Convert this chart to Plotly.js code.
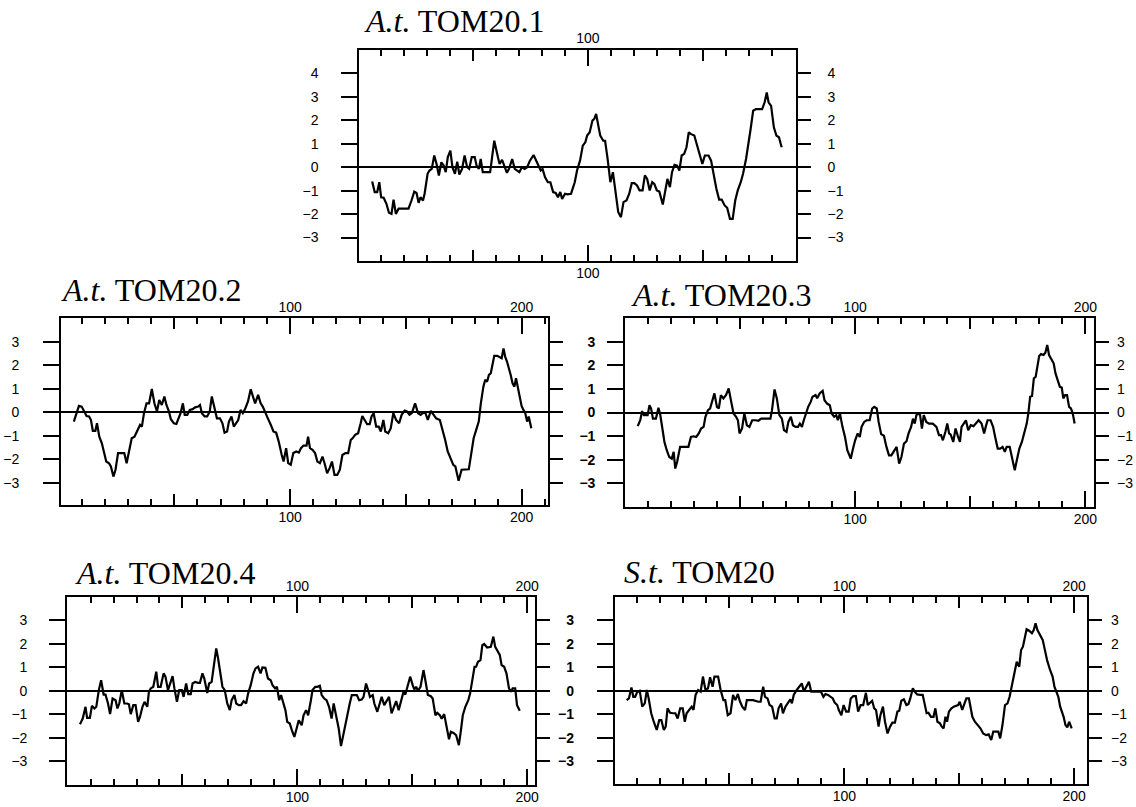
<!DOCTYPE html>
<html><head><meta charset="utf-8">
<script src="https://cdn.plot.ly/plotly-3.0.1.min.js"></script>
<style>html,body{margin:0;padding:0;background:#fff}#chart{width:1136px;height:807px}</style>
</head><body><div id="chart"></div>
<script>
// ---- data: residue position / hydropathy value ----
const tom201_pos = [6.2,7.3,8.4,9.3,10.1,11.2,12.4,13.5,14.6,15.5,
16.5,17.7,18.9,22,23.3,24.5,25.5,26.4,27.2,28.3,
29,30.3,31.1,32.1,33.2,34.2,35.2,36.3,37.3,38.2,
39.1,40.2,41.1,42.2,43.2,44.1,45.3,46.4,47.5,48.4,
49.5,50.8,51.6,52.6,53.4,54.3,57.5,59.3,60.9,61.6,
62.7,63.7,64.8,65.7,67.1,68.2,69.3,70.2,71.3,72.5,
73.6,74.8,76.4,78,79.5,80.3,81.4,82.6,83.7,84.9,
86,87,88,88.8,90.1,91.1,92.7,94.3,95.3,96.6,
97.8,98.9,99.7,100.8,102,102.8,103.6,104.7,105.4,106.7,
107.5,108.5,109.8,110.9,112.1,113.2,114.4,115.5,116.8,118,
119.1,120.2,121.4,122.5,123.8,124.8,125.8,126.9,128,128.9,
130,131.1,132.6,133.5,134.6,135.7,136.6,137.7,138.8,139.8,
140.8,141.9,142.9,143.9,144.7,146.3,147.4,148.6,149.8,150.9,
152.5,153.6,154.8,155.9,157.1,158.2,159.5,160.6,161.8,163,
164.1,165.2,166.5,167.5,168.8,169.9,170.8,171.9,173.1,175.8,
176.9,177.8,178.6,179.7,180.9,182,183.1,184.3];
const tom201_hyd = [-0.61,-1.06,-1.06,-0.64,-1.28,-1.3,-1.56,-1.94,-1.99,-1.38,
-1.99,-1.77,-1.77,-1.77,-1.42,-1.04,-1.1,-1.52,-1.28,-1.42,
-1.13,-0.28,-0.14,-0.07,0.5,0.14,-0.35,0.21,0.07,-0.21,
0.43,0.71,0,-0.28,0.24,-0.31,-0.07,0.5,0,-0.07,
0.43,0.43,0.07,-0.07,0.35,-0.21,-0.21,1.13,0.43,0.14,
0.31,0.07,-0.24,-0.07,0.35,-0.07,-0.17,-0.21,0,-0.07,
0,0.28,0.52,0.21,-0.14,-0.07,-0.43,-0.64,-0.64,-1.06,
-1.1,-1.28,-1.06,-1.35,-1.13,-1.16,-1.13,-0.64,-0.14,0.28,
0.92,1.06,1.35,1.49,1.99,2.06,2.27,1.7,1.35,1.13,
1.13,0.43,-0.64,-0.21,-1.13,-1.91,-2.13,-1.49,-1.42,-1.13,
-0.68,-0.68,-0.78,-0.99,-0.99,-0.35,-0.5,-0.99,-0.64,-0.71,
-0.99,-1.04,-1.59,-1.13,-0.5,-0.85,-0.21,0.1,0.07,-0.14,
0.5,0.57,0.85,1.49,1.42,1.35,0.99,0.5,0.14,0.5,
0.5,0.28,-0.43,-0.92,-1.38,-1.38,-1.63,-1.73,-2.2,-2.2,
-1.42,-0.99,-0.64,-0.28,0.35,0.99,1.63,2.41,2.48,2.48,
2.77,3.19,2.77,2.62,1.7,1.35,1.28,0.85];

const tom202_pos = [6.6,7.7,8.8,10,11.1,12.1,13.2,14,14.8,15.9,
16.6,17.6,18.7,19.8,20.6,21.8,22.6,23.7,24.6,25.7,
28.4,29.4,30.5,31.6,32.8,34.1,35.2,36,36.9,38,
39.1,40.3,41.4,42.5,43.5,44.6,45.7,46.6,47.7,48.5,
49.8,50.9,51.6,52.7,53.7,54.5,55.6,56.7,57.9,59,
60.3,61.1,61.9,63.1,64.2,65.3,66.2,67.3,68.4,69.7,
70.8,71.7,72.8,73.6,74.7,75.7,76.8,77.6,78.6,79.6,
80.7,81.8,83,83.8,84.9,86.2,87.3,88.2,89.3,90.4,
91.7,92.8,94,95.1,96.4,97.2,98.3,99.2,100.3,101.4,
102.7,103.8,104.7,105.8,107.1,107.8,108.6,109.7,110.8,111.8,
112.9,114,114.9,116,117.1,118.1,119.2,120.4,121.5,122.6,
123.9,125.1,126.2,127,128.1,129.4,130.5,131.2,132.2,133.3,
134.4,135.2,136.1,137.2,138.3,139.2,140.3,141.1,142.4,143.5,
144.6,145.8,147.1,148.2,149.5,150.5,151.6,152.6,154,155.3,
156.4,157.3,158.4,159.5,160.8,162,163.1,164.7,165.9,167,
168.1,169.4,170.5,171.4,172.8,174.1,175.7,177.2,178.3,179.3,
180.4,181.5,182.4,183.5,184.3,185.1,185.9,186.7,187.4,188.2,
189.5,190.6,191.4,192.2,192.9,193.7,194.5,195.3,196.1,196.9,
197.6,198.4,199.2,200,200.8,201.6,202.4,203.1,204.2];
const tom202_hyd = [-0.4,-0.04,0.27,0.24,0.03,-0.16,-0.18,-0.33,-0.79,-0.79,
-0.47,-1.04,-1.32,-1.82,-2.1,-2.17,-2.31,-2.74,-2.45,-1.74,
-1.74,-2.17,-1.6,-1.11,-1.04,-0.75,-0.54,-0.61,-0.04,0.38,
0.38,0.99,0.38,0.03,0.52,0.31,0.67,0.31,0.03,-0.3,
-0.47,-0.5,-0.33,-0.04,0.38,-0.11,-0.11,0.1,0.13,0.21,
0.24,0.31,-0.04,-0.18,-0.18,0.03,0.67,0.17,-0.26,-0.26,
-0.47,-0.87,-0.82,-0.4,-0.18,-0.61,-0.47,-0.33,0.1,-0.04,
0.17,0.45,0.98,0.74,0.38,0.74,0.38,0.24,-0.04,-0.26,
-0.54,-0.82,-0.87,-1.25,-1.82,-2.1,-1.53,-2.17,-2.24,-1.74,
-1.67,-1.72,-1.53,-1.42,-1.42,-1.04,-1.53,-1.6,-1.74,-2.1,
-2.17,-1.89,-2.17,-2.6,-2.38,-2.1,-2.67,-2.67,-2.45,-1.82,
-1.74,-1.74,-1.18,-1.11,-0.96,-0.89,-0.47,-0.16,-0.33,-0.51,
-0.51,-0.18,-0.04,-0.61,-0.61,-0.82,-0.33,-0.82,-0.89,-0.68,
-0.04,-0.33,-0.47,-0.11,0.07,0.03,-0.11,-0.04,0.38,-0.04,
-0.11,-0.04,-0.01,-0.33,0.06,-0.11,-0.26,-0.33,-0.75,-1.18,
-1.67,-1.96,-2.24,-2.31,-2.92,-2.45,-2.43,-2.43,-1.74,-1.11,
-0.75,-0.4,0.38,1.09,1.38,1.3,1.59,1.66,2.01,2.4,
2.4,2.34,2.3,2.72,2.37,2.16,1.91,1.59,1.23,1.09,
1.45,1.02,0.6,0.27,0.1,-0.04,-0.4,-0.18,-0.68];

const tom203_pos = [5.6,6.7,7.5,8.3,9.1,9.9,10.7,11.4,12.2,13.5,
14.6,15.4,16.3,17.2,18.2,19.3,20.4,21.2,21.9,22.7,
24,25.1,27.6,28.7,29.8,31,32.1,33.1,34.2,35,
36.1,37,38.1,38.9,40,40.8,41.7,42.8,43.9,45.1,
46.2,47.2,48.3,49.1,49.8,50.9,51.9,53,54.1,55.3,
56.9,58,59.2,61.6,63.2,63.9,65,66,67.1,68.2,
69.1,70.2,71,72.1,73,74.1,75.2,76,76.9,77.7,
78.8,79.6,80.7,81.5,82.8,83.5,84.6,85.9,86.7,87.8,
89,89.8,90.9,91.8,92.5,93.4,94.5,95.6,96.6,97.3,
98.1,98.9,100,101.1,102,102.8,103.9,105,106.3,107.4,
108.3,109.4,110.2,111.3,112.5,113.6,114.7,115.7,116.8,118,
119.1,120.1,121.2,122.3,123.2,124.3,125.1,125.9,126.6,127.4,
128.2,129,129.8,130.9,132.1,133.7,135.3,136.4,137.3,138.1,
139.2,140,140.8,141.5,142.6,143.6,144.7,145.5,146.2,147,
148.1,149.1,150.2,151.4,152.5,153.6,154.9,156,156.7,157.5,
158.8,159.9,160.8,161.9,163,164,165,165.8,167.1,168.2,
169.3,170.2,171.3,172.4,173.4,174.5,175.2,176,176.8,177.6,
178.4,179.2,179.9,180.7,181.8,182.6,183.4,184.2,185.1,186.2,
187,187.8,188.9,189.7,190.4,191.2,192,192.9,193.7,194.5,
195.3];
const tom203_hyd = [-0.58,-0.33,0.06,-0.11,-0.11,-0.11,0.31,0.17,-0.26,-0.26,
0.2,-0.11,-0.68,-1.25,-1.6,-1.89,-1.96,-1.67,-2.38,-2.1,
-1.46,-1.46,-1.46,-1.04,-1.01,-1.04,-0.89,-0.68,-0.61,-0.18,
0.1,0.17,0.6,0.81,0.24,0.17,0.74,0.6,0.74,1.02,
0.45,-0.04,-0.18,-0.33,-0.89,-0.68,-0.04,-0.54,-0.61,-0.33,
-0.33,-0.35,-0.26,-0.26,-0.26,0.1,0.98,0.6,-0.11,-0.26,
-0.75,-0.82,-0.4,-0.18,-0.54,-0.61,-0.61,-0.47,-0.61,-0.33,
0.03,0.24,0.45,0.67,0.74,0.6,0.81,0.92,0.52,0.38,
0.31,-0.04,-0.18,-0.11,-0.33,-0.04,-0.61,-1.04,-1.6,-1.74,
-1.96,-1.6,-1.18,-0.89,-1.04,-0.61,-0.4,-0.33,-0.33,0.17,
0.24,0.17,-0.4,-0.92,-0.99,-1.46,-1.82,-1.82,-1.67,-1.46,
-2.17,-1.89,-1.32,-1.22,-0.89,-0.61,-0.26,-0.47,-0.11,-0.04,
-0.11,-0.68,-0.11,-0.4,-0.47,-0.47,-0.61,-0.96,-0.96,-1.18,
-0.82,-0.47,-0.89,-0.94,-1.25,-0.68,-1.04,-1.25,-0.61,-0.5,
-0.33,-0.75,-0.54,-0.58,-0.47,-0.33,-0.47,-0.89,-0.61,-0.33,
-0.33,-0.61,-1.04,-1.53,-1.53,-1.46,-1.67,-1.46,-1.46,-1.89,
-2.45,-2.03,-1.53,-1.25,-0.89,-0.47,-0.04,0.67,0.7,1.45,
1.52,2.01,2.4,2.48,2.44,2.54,2.87,2.44,2.26,2.09,
1.66,1.38,1.09,1.06,0.6,0.74,0.74,0.24,0.17,-0.04,
-0.47];

const tom204_pos = [5.4,6.6,7.8,8.5,9.7,10.6,11.7,12.5,13.6,14.6,
15.7,16.5,17.6,18.5,19.6,20.9,21.7,22.5,23.6,24.7,
25.9,26.7,27.5,28.6,29.6,30.7,31.5,32.6,33.5,34.7,
35.4,36.2,37.3,38.6,39.4,40.5,41.8,42.6,43.7,44.6,
45.7,46.5,47.6,48.6,49.7,50.5,51.6,52.5,53.6,54.4,
55.5,56.8,57.6,58.7,59.5,60.8,61.6,62.7,63.6,64.7,
65.5,66.3,67.4,68.4,69.5,70.6,71.4,72.6,73.4,74.5,
75.5,76.6,77.7,78.6,79.7,80.9,81.8,82.9,84,84.8,
86.1,87.2,88.4,89.2,90.3,91.1,92.1,92.9,94,94.8,
95.6,96.7,97.6,98.7,99.8,100.6,101.9,102.7,103.8,104.7,
105.9,106.6,107.8,108.7,109.8,110.6,111.7,112.7,113.8,114.9,
115.8,116.9,118,119,120.1,120.9,121.7,122.8,123.7,124.8,
125.9,126.9,128,128.8,129.9,130.9,131.6,132.8,133.5,134.8,
135.9,136.7,137.8,138.6,139.9,141,141.9,143,144.1,145.1,
146.2,147,147.8,149.1,150.2,150.9,151.7,152.5,153.6,154.9,
155.7,156.8,158.1,158.9,160.1,160.9,162,162.8,163.9,164.9,
166,166.8,168,169.1,170.3,171.2,172,173.1,174.4,175.2,
175.9,177.1,177.8,178.6,179.7,180.5,181.3,182.6,184.2,185.3,
186.1,187,188.1,188.9,190,191,192.1,192.9,193.7,194.8,
195.6,196.8];
const tom204_hyd = [-1.42,-1.18,-0.68,-1.15,-1.15,-0.64,-0.75,-0.68,0.03,0.45,
-0.16,-0.16,-0.54,-0.99,-0.33,-0.4,-0.75,-0.54,0.03,-0.54,
-0.54,-0.57,-0.99,-0.61,-0.61,-1.32,-1.11,-0.68,-0.47,-0.68,
-0.04,0.1,0.17,0.81,0.17,0.17,0.74,0.6,0.03,0.31,
0.62,0.1,-0.47,0.03,0.03,-0.26,0.31,-0.14,-0.14,0.31,
0.38,0.34,0.34,0.74,0.52,-0.09,0.31,0.38,0.95,1.8,
1.38,0.81,0.17,0.03,-0.54,-0.82,-0.4,-0.18,-0.54,-0.61,
-0.61,-0.44,-0.54,-0.11,0.24,0.74,0.95,1.02,0.74,0.99,
0.98,0.52,0.45,0.24,0.1,0.17,-0.4,-0.18,-0.61,-0.82,
-1.32,-1.39,-1.67,-1.96,-1.56,-1.25,-1.46,-1.04,-0.82,-1.04,
-0.4,0.03,0.17,0.17,0.21,-0.18,-0.33,-0.4,-0.68,-1.18,
-0.54,-1.11,-1.6,-2.35,-1.82,-1.32,-0.96,-0.54,-0.18,-0.18,
-0.18,-0.4,-0.37,-0.26,0.31,0,-0.26,-0.18,-0.54,-0.89,
-0.54,-0.26,-0.61,-0.47,-0.26,-0.96,-0.68,-0.44,-0.82,-0.4,
-0.04,-0.16,0.17,0.6,0.24,0.06,0.17,0,0.17,0.88,
0.45,-0.18,-0.23,-0.33,-1.04,-0.94,-1.04,-1.18,-0.99,-1.46,
-2.06,-1.74,-1.79,-1.89,-2.31,-1.67,-1.04,-0.68,-0.4,-0.11,
0.38,1.02,1.02,1.23,1.3,1.94,1.99,1.84,1.87,2.3,
1.87,1.73,1.52,1.09,1.02,0.74,0.1,-0.04,0.1,0.1,
-0.61,-0.85];

const sttom20_pos = [5.3,6.3,7.4,8.2,9,10,11,12.1,13.2,14.1,
14.9,16,17.1,18.4,19.5,20.4,21.5,22.3,23.1,24.2,
25.4,26.5,27.5,28.6,29.7,30.6,31.4,32.5,33.6,34.4,
35.3,36.4,37.5,38.5,39.6,40.7,41.6,42.7,43.5,45.1,
46.2,47.4,48.2,49.3,50.5,51.6,52.6,53.7,54.5,55.6,
56.8,57.6,58.7,60.3,62.6,63.6,64.7,65.5,66.6,67.5,
68.6,69.7,70.6,71.4,72.5,73.3,74.4,75.4,76.5,77.2,
78,79.3,80.4,81.5,82.4,83.5,84.6,85.6,86.7,88.2,
89.8,90.9,91.8,92.9,94,95,95.8,96.9,97.6,98.7,
99.7,100.8,101.9,102.8,103.9,105,106,107.1,108.2,109.4,
110.2,111,112.1,113,113.8,114.9,115.7,116.8,117.7,118.8,
119.9,120.9,122,123.1,123.9,124.8,125.9,127,127.9,128.7,
129.8,130.6,131.7,133,134.1,134.9,135.8,136.6,137.7,138.8,
139.6,140.5,141.6,142.4,143.2,144,144.7,145.5,146.6,147.6,
148.7,149.5,150.2,151.3,152.3,153.1,154.2,154.9,155.7,156.8,
158.1,159.2,160.4,161.7,162.8,163.9,164.8,165.9,167,167.8,
168.8,169.9,171,171.9,173,174.1,175,176.1,176.9,177.7,
178.5,179.3,180.4,181.6,182.4,183.2,184,185.1,186.3,187.4,
188.2,189.5,190.6,191.4,192.3,193.1,193.9,194.7,195.4,196.2,
197,197.8,198.9];
const sttom20_hyd = [-0.4,-0.33,0.14,-0.26,-0.26,-0.04,0,-0.68,-0.54,0.03,
-0.33,-0.96,-1.32,-1.67,-1.25,-1.25,-1.67,-1.53,-0.75,-0.94,
-0.96,-0.96,-1.18,-0.75,-0.75,-1.32,-0.96,-0.82,-0.68,-0.82,
-0.18,0.03,-0.04,0.6,0.03,0.1,0.57,0.17,0.6,0.6,
0.03,-0.4,-0.4,-1.04,-0.96,-0.18,-0.4,-0.14,-0.43,-0.68,
-0.82,-0.4,-0.4,-0.4,-0.47,-0.47,0.17,-0.26,-0.33,-0.61,
-0.68,-1.18,-1.18,-0.75,-0.54,-0.96,-0.68,-0.54,-0.37,-0.54,
-0.18,0.03,0.17,0.31,-0.04,0.2,0.38,-0.04,-0.04,-0.04,
-0.04,-0.26,-0.14,-0.18,-0.26,-0.33,-0.51,-0.61,-0.82,-1.04,
-0.61,-0.89,-0.89,-0.33,-0.23,-0.23,-0.89,-0.61,-0.61,-0.09,
-0.61,-0.54,-0.43,-0.75,-0.82,-1.53,-1.04,-0.68,-1.32,-1.82,
-1.53,-1.36,-1.36,-0.89,-0.85,-0.43,-0.37,-0.61,-0.57,-0.33,
0.1,-0.04,-0.16,-0.18,-0.18,-0.54,-0.96,-0.94,-1.11,-1.11,
-0.75,-1.32,-1.39,-1.53,-1.6,-1.11,-1.32,-0.89,-0.75,-0.68,
-0.65,-0.61,-0.47,-0.82,-0.54,-0.33,-0.33,-0.68,-1.11,-1.32,
-1.46,-1.6,-1.82,-1.89,-1.86,-2.1,-1.74,-1.74,-1.74,-2.03,
-1.46,-0.61,-0.54,-0.26,0.31,0.74,1.23,1.02,1.73,1.87,
2.23,2.61,2.55,2.44,2.58,2.87,2.58,2.37,2.16,1.66,
1.3,0.88,0.6,0.17,-0.11,-0.26,-0.68,-0.89,-1.11,-1.46,
-1.56,-1.32,-1.6];

const titles = ['<i>A.t.</i> TOM20.1', '<i>A.t.</i> TOM20.2', '<i>A.t.</i> TOM20.3',
                '<i>A.t.</i> TOM20.4', '<i>S.t.</i> TOM20'];
const yTicksTop = [-3,-2,-1,0,1,2,3,4];
const yTicks = [-3,-2,-1,0,1,2,3];
const xLabelVals = [100, 200];
const xLabelText = ['100', '200'];

// ---- layout (pixel geometry) ----
const W = 1136, H = 807;
const px = v => v / W;
const py = v => 1 - v / H;
const panels = [
  {pos: tom201_pos, hyd: tom201_hyd, t: 0, xd: [359.3, 795.7], yd: [261, 50], xr: [0.6, 190.4], yr: [-4, 5], yt: yTicksTop,
   lLab: true, lBold: false, lStand: 20, rLab: true, rStand: 14, tx: 362, ty: 21.5},
  {pos: tom202_pos, hyd: tom202_hyd, t: 1, xd: [61.1, 548.2], yd: [505, 318.3], xr: [1.1, 211.5], yr: [-3.95, 4], yt: yTicks,
   lLab: true, lBold: false, lStand: 21, rLab: false, rStand: 10, tx: 59, ty: 290},
  {pos: tom203_pos, hyd: tom203_hyd, t: 2, xd: [625.2, 1094.2], yd: [506.7, 318.3], xr: [0.16, 203.8], yr: [-4, 4], yt: yTicks,
   lLab: true, lBold: true, lStand: 9, rLab: true, rStand: 5, tx: 628.5, ty: 295},
  {pos: tom204_pos, hyd: tom204_hyd, t: 3, xd: [67.2, 535.4], yd: [785, 597.3], xr: [-0.16, 203.6], yr: [-4, 3.97], yt: yTicks,
   lLab: true, lBold: false, lStand: 19, rLab: false, rStand: 10, tx: 72.5, ty: 573},
  {pos: sttom20_pos, hyd: sttom20_hyd, t: 4, xd: [614.8, 1087.3], yd: [784.3, 597.3], xr: [0.16, 205.7], yr: [-3.98, 3.97], yt: yTicks,
   lLab: true, lBold: true, lStand: 20, rLab: true, rStand: 6, tx: 621.5, ty: 572}
];

const FONT = 'Liberation Sans, Arial, Helvetica, sans-serif';
const TICKFONT = {family: FONT, size: 14, color: '#000'};
const layout = {
  width: W, height: H, margin: {l: 0, r: 0, t: 0, b: 0},
  paper_bgcolor: '#ffffff', plot_bgcolor: 'rgba(0,0,0,0)', showlegend: false,
  font: {family: FONT, size: 14, color: '#000'},
  annotations: []
};
const data = [];
const xid = n => n === 1 ? 'x' : 'x' + n;
const yid = n => n === 1 ? 'y' : 'y' + n;
const xkey = n => n === 1 ? 'xaxis' : 'xaxis' + n;
const ykey = n => n === 1 ? 'yaxis' : 'yaxis' + n;

panels.forEach((p, i) => {
  const xa = 3 * i + 1, ya = 2 * i + 1;
  const xdom = [px(p.xd[0]), px(p.xd[1])];
  const ydom = [py(p.yd[0]), py(p.yd[1])];
  // the visible hydropathy curve
  data.push({type: 'scatter', mode: 'lines', x: p.pos, y: p.hyd,
    xaxis: xid(xa), yaxis: yid(ya), line: {color: '#000', width: 2.2}, hoverinfo: 'skip'});
  // transparent copies so that the overlaying tick/label axes get drawn
  [[xid(xa + 1), yid(ya)], [xid(xa + 2), yid(ya)], [xid(xa), yid(ya + 1)]].forEach(([xr, yr]) => {
    data.push({type: 'scatter', mode: 'lines', x: p.pos, y: p.hyd, xaxis: xr, yaxis: yr,
      line: {color: 'rgba(0,0,0,0)', width: 0}, opacity: 0, hoverinfo: 'skip'});
  });
  // main x: 50-ticks + minor 10-ticks, mirrored to top (box)
  layout[xkey(xa)] = {domain: xdom, range: p.xr, anchor: yid(ya), side: 'bottom',
    showgrid: false, zeroline: false, showline: true, linecolor: '#000', linewidth: 2, mirror: 'ticks',
    ticks: 'inside', tickmode: 'linear', tick0: 0, dtick: 50, ticklen: 11, tickwidth: 2, tickcolor: '#000',
    showticklabels: false,
    minor: {ticks: 'inside', tickmode: 'linear', tick0: 0, dtick: 10, ticklen: 6, tickwidth: 2, tickcolor: '#000', showgrid: false},
    fixedrange: true};
  // 100-ticks with bottom labels, mirrored to top
  layout[xkey(xa + 1)] = {overlaying: xid(xa), anchor: yid(ya), side: 'bottom', range: p.xr,
    showgrid: false, zeroline: false, showline: false, mirror: 'ticks',
    ticks: 'inside', ticklen: 16, tickwidth: 2, tickcolor: '#000',
    tickmode: 'array', tickvals: xLabelVals, ticktext: xLabelText, showticklabels: true,
    ticklabelstandoff: 2, tickfont: TICKFONT, fixedrange: true};
  // top labels
  layout[xkey(xa + 2)] = {overlaying: xid(xa), anchor: yid(ya), side: 'top', range: p.xr,
    showgrid: false, zeroline: false, showline: false, ticks: '',
    tickmode: 'array', tickvals: xLabelVals, ticktext: xLabelText, showticklabels: true,
    ticklabelstandoff: 3, tickfont: TICKFONT, fixedrange: true};
  // left y
  layout[ykey(ya)] = {domain: ydom, range: p.yr, anchor: xid(xa), side: 'left',
    showgrid: false, zeroline: true, zerolinecolor: '#000', zerolinewidth: 2,
    showline: true, linecolor: '#000', linewidth: 2, mirror: true,
    ticks: 'outside', ticklen: 16, tickwidth: 2, tickcolor: '#000',
    tickmode: 'array', tickvals: p.yt, showticklabels: p.lLab, ticklabelstandoff: p.lStand,
    tickfont: {family: FONT, size: 14, color: '#000', weight: p.lBold ? 'bold' : 'normal'}, fixedrange: true};
  // right y
  layout[ykey(ya + 1)] = {overlaying: yid(ya), anchor: xid(xa), side: 'right', range: p.yr,
    showgrid: false, zeroline: false, showline: false,
    ticks: 'outside', ticklen: 14, tickwidth: 2, tickcolor: '#000',
    tickmode: 'array', tickvals: p.yt, showticklabels: p.rLab, ticklabelstandoff: p.rStand,
    tickfont: TICKFONT, fixedrange: true};
  layout.annotations.push({text: titles[p.t], xref: 'paper', yref: 'paper',
    x: px(p.tx), y: py(p.ty), xanchor: 'left', yanchor: 'middle', showarrow: false,
    font: {family: 'Liberation Serif, Times New Roman, serif', size: 32, color: '#000'}});
});

Plotly.newPlot('chart', data, layout, {displayModeBar: false, staticPlot: true});
</script>
</body></html>
